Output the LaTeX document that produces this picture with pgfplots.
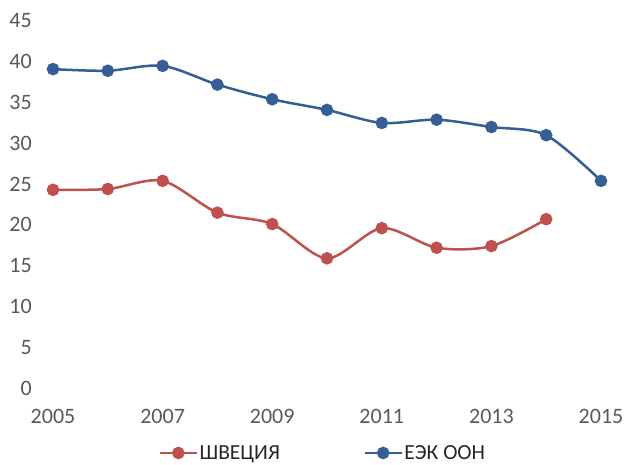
\documentclass[border=0pt]{standalone}
\usepackage{fontspec}
\setmainfont{Carlito}
\usepackage{pgfplots}
\pgfplotsset{compat=1.18}
\definecolor{cred}{RGB}{192,80,77}
\definecolor{cblue}{RGB}{52,94,148}
\definecolor{tickgray}{RGB}{89,89,89}
\begin{document}
\begin{tikzpicture}[x=1pt,y=1pt]
\path[use as bounding box] (0,0) rectangle (626,464);
\begin{axis}[
  at={(53pt,76pt)}, anchor=origin,
  scale only axis, width=548pt, height=367pt,
  xmin=2005, xmax=2015, ymin=0, ymax=45,
  clip=false,
  xtick={2005,2007,...,2015},
  ytick={0,5,...,45},
  axis line style={draw=none},
  major tick length=0pt,
  /pgf/number format/assume math mode=true,
  xticklabel={\pgfmathprintnumber[1000 sep={}]{\tick}},
  tick label style={font=\fontsize{22}{26}\selectfont, text=tickgray, inner sep=0pt},
  yticklabel style={anchor=east, xshift=-21pt},
  xticklabel style={anchor=north, yshift=-21pt},
  legend style={at={(0.492,-0.177)}, anchor=center, draw=none, fill=none,
    legend columns=2, font=\fontsize{21.5}{24}\selectfont, text=black!85,
    inner sep=0pt, nodes={inner sep=1.5pt},
    /tikz/every even column/.append style={column sep=82pt}},
  legend cell align=left,
  legend image code/.code={
    \draw[#1, mark=none] (0pt,0pt) -- (37pt,0pt);
    \draw[#1, only marks] plot coordinates {(18.5pt,0pt)};
  },
]
\addplot[cred, line width=2.5pt, smooth, mark=*, mark size=5pt, mark options={solid}] coordinates {
(2005,24.3) (2006,24.4) (2007,25.4) (2008,21.5) (2009,20.1) (2010,15.9)
(2011,19.6) (2012,17.2) (2013,17.4) (2014,20.7)
};
\addlegendentry{ШВЕЦИЯ}
\addplot[cblue, line width=2.5pt, smooth, mark=*, mark size=5pt, mark options={solid}] coordinates {
(2005,39.1) (2006,38.9) (2007,39.5) (2008,37.2) (2009,35.4) (2010,34.1)
(2011,32.5) (2012,32.9) (2013,32.0) (2014,31.0) (2015,25.4)
};
\addlegendentry{ЕЭК ООН}
\end{axis}
\end{tikzpicture}
\end{document}
